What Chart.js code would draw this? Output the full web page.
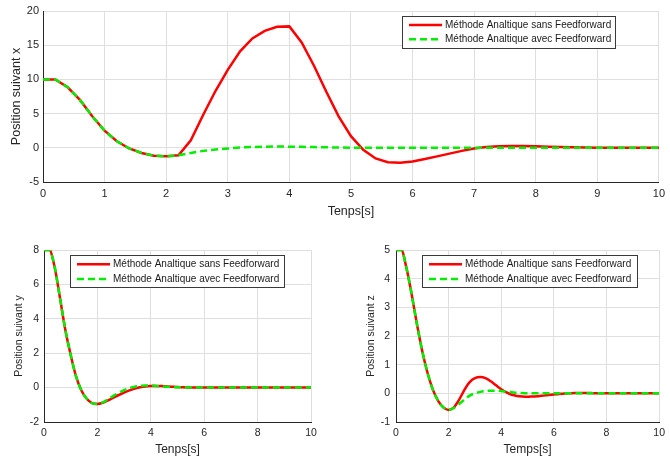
<!DOCTYPE html>
<html>
<head>
<meta charset="utf-8">
<script src="https://cdn.jsdelivr.net/npm/chart.js@4/dist/chart.umd.min.js"></script>
<style>
  html, body { margin: 0; padding: 0; background: #fff; }
  body { width: 670px; height: 463px; position: relative; overflow: hidden; }
  canvas { position: absolute; }
</style>
</head>
<body>
<canvas id="chartX" width="670" height="225" style="left:0;top:0"></canvas>
<canvas id="chartY" width="335" height="233" style="left:0;top:230px"></canvas>
<canvas id="chartZ" width="335" height="233" style="left:335px;top:230px"></canvas>
<script>
// time samples (s)
const timeS = [0, 0.2, 0.4, 0.6, 0.8, 1, 1.2, 1.4, 1.6, 1.8, 2, 2.2, 2.4, 2.6, 2.8, 3, 3.2, 3.4, 3.6, 3.8,
  4, 4.2, 4.4, 4.6, 4.8, 5, 5.2, 5.4, 5.6, 5.8, 6, 6.2, 6.4, 6.6, 6.8, 7, 7.2, 7.4, 7.6, 7.8,
  8, 8.2, 8.4, 8.6, 8.8, 9, 9.2, 9.4, 9.6, 9.8, 10];

// Position suivant x
const xSans = [10, 10, 8.85, 7.0, 4.6, 2.5, 0.95, -0.1, -0.75, -1.15, -1.25, -1.1, 1.1, 4.8, 8.3, 11.4, 14.1, 16.0, 17.1, 17.7,
  17.75, 15.4, 12.0, 8.2, 4.6, 1.7, -0.3, -1.55, -2.1, -2.2, -2.0, -1.65, -1.25, -0.85, -0.45, -0.1, 0.1, 0.22, 0.27, 0.27,
  0.22, 0.17, 0.12, 0.08, 0.04, 0.01, 0, 0, 0, 0, 0];
const xAvec = [10, 10, 8.85, 7.0, 4.6, 2.5, 0.95, -0.1, -0.75, -1.15, -1.25, -1.1, -0.75, -0.45, -0.25, -0.1, 0.05, 0.12, 0.17, 0.18,
  0.17, 0.14, 0.1, 0.07, 0.04, 0.02, 0.01, 0, 0, 0, 0, 0, 0, 0, 0, 0, 0, 0, 0, 0,
  0, 0, 0, 0, 0, 0, 0, 0, 0, 0, 0];

// Position suivant y
const ySans = [8, 8, 7.0, 5.2, 3.35, 1.9, 0.65, -0.17, -0.65, -0.9, -0.95, -0.88, -0.74, -0.58, -0.43, -0.29, -0.16, -0.06, 0.02, 0.07,
  0.09, 0.1, 0.09, 0.07, 0.05, 0.03, 0.02, 0.01, 0, 0, 0, 0, 0, 0, 0, 0, 0, 0, 0, 0,
  0, 0, 0, 0, 0, 0, 0, 0, 0, 0, 0];
const yAvec = [8, 8, 7.0, 5.2, 3.35, 1.9, 0.65, -0.17, -0.65, -0.9, -0.95, -0.86, -0.68, -0.48, -0.3, -0.15, -0.03, 0.05, 0.1, 0.12,
  0.12, 0.1, 0.07, 0.05, 0.03, 0.02, 0.01, 0, 0, 0, 0, 0, 0, 0, 0, 0, 0, 0, 0, 0,
  0, 0, 0, 0, 0, 0, 0, 0, 0, 0, 0];

// Position suivant z
const zSans = [5, 5, 4.36, 3.43, 2.39, 1.46, 0.71, 0.13, -0.26, -0.49, -0.58, -0.49, -0.22, 0.12, 0.39, 0.53, 0.57, 0.53, 0.42, 0.28,
  0.14, 0.03, -0.05, -0.09, -0.11, -0.12, -0.11, -0.1, -0.08, -0.06, -0.04, -0.02, -0.01, 0, 0.01, 0.01, 0.01, 0.01, 0, 0,
  0, 0, 0, 0, 0, 0, 0, 0, 0, 0, 0];
const zAvec = [5, 5, 4.36, 3.43, 2.39, 1.46, 0.71, 0.13, -0.26, -0.49, -0.58, -0.51, -0.37, -0.22, -0.08, 0.0, 0.05, 0.08, 0.09, 0.09,
  0.08, 0.06, 0.04, 0.02, 0.01, 0, 0, 0, 0, 0, 0, 0, 0, 0, 0, 0, 0, 0, 0, 0,
  0, 0, 0, 0, 0, 0, 0, 0, 0, 0, 0];

const labelSans = 'Méthode Analtique sans Feedforward';
const labelAvec = 'Méthode Analtique avec Feedforward';

Chart.defaults.font.family = '"Liberation Sans", Arial, sans-serif';
Chart.defaults.color = '#262626';

const AXIS = '#262626';
const GRID = '#dfdfdf';

// legend drawn inside the plot like the MATLAB one
const boxLegend = {
  id: 'boxLegend',
  afterDatasetsDraw(chart, args, opts) {
    const { ctx, chartArea } = chart;
    const x = Math.round(chartArea.left + opts.x);
    const y = Math.round(chartArea.top + opts.y);
    ctx.save();
    ctx.fillStyle = '#fff';
    ctx.fillRect(x, y, opts.width, opts.height);
    ctx.strokeStyle = '#3a3a3a';
    ctx.lineWidth = 1;
    ctx.strokeRect(x + 0.5, y + 0.5, opts.width, opts.height);
    chart.data.datasets.forEach((ds, i) => {
      const cy = y + opts.rowTop + i * opts.rowGap;
      ctx.beginPath();
      ctx.setLineDash(ds.borderDash || []);
      ctx.strokeStyle = ds.borderColor;
      ctx.lineWidth = ds.borderWidth;
      ctx.moveTo(x + opts.sampleLeft, cy);
      ctx.lineTo(x + opts.sampleLeft + opts.sampleLen, cy);
      ctx.stroke();
      ctx.setLineDash([]);
      ctx.fillStyle = '#1a1a1a';
      ctx.font = '10px "Liberation Sans", Arial, sans-serif';
      ctx.textBaseline = 'middle';
      ctx.fillText(ds.label, x + opts.textLeft, cy);
    });
    ctx.restore();
  }
};

function series(values) {
  return timeS.map((t, i) => ({ x: t, y: values[i] }));
}

function makeChart(id, cfg) {
  const smooth = cfg.smooth ? { cubicInterpolationMode: 'monotone' } : { tension: 0 };
  return new Chart(document.getElementById(id), {
    type: 'line',
    data: {
      datasets: [
        Object.assign({
          label: labelSans,
          data: series(cfg.sans),
          borderColor: '#ff0000',
          borderWidth: 2.5,
          pointRadius: 0,
          order: 1
        }, smooth),
        Object.assign({
          label: labelAvec,
          data: series(cfg.avec),
          borderColor: '#00ee00',
          borderDash: [7, 4],
          borderWidth: 2.5,
          pointRadius: 0,
          order: 0
        }, smooth)
      ]
    },
    options: {
      responsive: false,
      animation: false,
      layout: { padding: cfg.padding },
      plugins: {
        legend: { display: false },
        tooltip: { enabled: false },
        boxLegend: cfg.legend
      },
      scales: {
        x: {
          type: 'linear',
          min: 0,
          max: 10,
          ticks: { stepSize: cfg.xStep, font: { size: cfg.tickSize }, color: AXIS, padding: cfg.xTickPad, maxRotation: 0 },
          grid: { color: GRID, drawTicks: false },
          border: { color: AXIS, width: 1 },
          title: { display: true, text: cfg.xTitle, font: { size: cfg.xTitleSize }, color: AXIS, padding: { top: 0, bottom: cfg.xTitlePad } },
          afterFit: s => { s.height = cfg.xHeight; }
        },
        y: {
          min: cfg.yMin,
          max: cfg.yMax,
          ticks: { stepSize: cfg.yStep, font: { size: cfg.tickSize }, color: AXIS, padding: cfg.yTickPad },
          grid: { color: GRID, drawTicks: false },
          border: { color: AXIS, width: 1 },
          title: { display: true, text: cfg.yTitle, font: { size: cfg.yTitleSize }, color: AXIS, padding: { top: cfg.yTitlePad, bottom: 0 } },
          afterFit: s => { s.width = cfg.yWidth; }
        }
      }
    },
    plugins: [boxLegend]
  });
}

makeChart('chartX', {
  sans: xSans, avec: xAvec, smooth: false,
  padding: { top: 11, right: 8, left: 0, bottom: 0 },
  xStep: 1, yMin: -5, yMax: 20, yStep: 5,
  tickSize: 11, xTickPad: 5, yTickPad: 4,
  xTitle: 'Tenps[s]', xTitleSize: 12.5, xTitlePad: 6, xHeight: 43,
  yTitle: 'Position suivant x', yTitleSize: 12.5, yTitlePad: 9, yWidth: 43,
  legend: { x: 359, y: 5, width: 213, height: 32, rowTop: 9, rowGap: 14.3, sampleLeft: 7, sampleLen: 33, textLeft: 43 }
});

makeChart('chartY', {
  sans: ySans, avec: yAvec, smooth: true,
  padding: { top: 20, right: 24, left: 0, bottom: 0 },
  xStep: 2, yMin: -2, yMax: 8, yStep: 2,
  tickSize: 10.5, xTickPad: 5, yTickPad: 5,
  xTitle: 'Tenps[s]', xTitleSize: 12, xTitlePad: 6, xHeight: 41,
  yTitle: 'Position suivant y', yTitleSize: 10.5, yTitlePad: 13, yWidth: 44,
  legend: { x: 26, y: 5, width: 214, height: 32, rowTop: 9.3, rowGap: 14.7, sampleLeft: 7, sampleLen: 33, textLeft: 43 }
});

makeChart('chartZ', {
  sans: zSans, avec: zAvec, smooth: true,
  padding: { top: 20, right: 7, left: 17, bottom: 0 },
  xStep: 2, yMin: -1, yMax: 5, yStep: 1,
  tickSize: 10.5, xTickPad: 5, yTickPad: 6,
  xTitle: 'Temps[s]', xTitleSize: 12, xTitlePad: 6, xHeight: 41,
  yTitle: 'Position suivant z', yTitleSize: 10.5, yTitlePad: 13, yWidth: 44,
  legend: { x: 26, y: 5, width: 215, height: 32, rowTop: 9.3, rowGap: 14.7, sampleLeft: 7, sampleLen: 33, textLeft: 43 }
});
</script>
</body>
</html>
